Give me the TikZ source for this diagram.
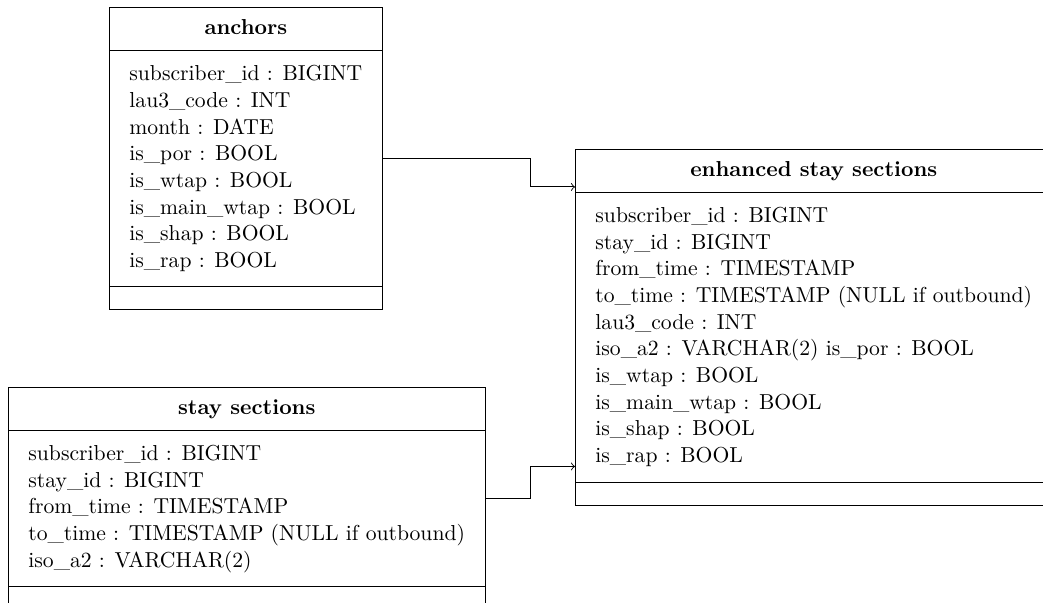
\documentclass[tikz,border=0pt]{standalone}
\usepackage{tikz}
\usetikzlibrary{shapes.multipart, positioning, calc}
\tikzset{
    ->, % all connectors are directed
    >=to, % plain open arrow head
    table/.style={rectangle split, rectangle split parts=3, draw,
        rectangle split part align={center, left, left},
        font=\fontsize{9.75pt}{12pt}\selectfont,
        inner xsep=9pt, inner ysep=5pt, anchor=north west, -}, % one table with header, fields and an empty bottom part
}
\newcommand{\tblhead}[1]{\rule[-2pt]{0pt}{9pt}\textbf{#1}}
\newcommand{\tblfields}[1]{\begin{tabular}{@{}l@{}}#1\end{tabular}}
\newcommand{\tblfoot}{\rule{0.1pt}{0pt}}

\begin{document}
\begin{tikzpicture}[x=1pt, y=1pt]
    \useasboundingbox (0,0) rectangle (469.8,-271.2);
    \node[table] (anchors) at (49.1,-3.2) {\tblhead{anchors}
        \nodepart{two}\tblfields{subscriber\_id : BIGINT\\
            lau3\_code : INT\\
            month : DATE\\
            is\_por : BOOL\\
            is\_wtap : BOOL\\
            is\_main\_wtap : BOOL\\
            is\_shap : BOOL\\
            is\_rap : BOOL}
        \nodepart{three}\tblfoot};
    \node[table] (enhanced) at (259.0,-67.1) {\tblhead{enhanced stay sections}
        \nodepart{two}\tblfields{subscriber\_id : BIGINT\\
            stay\_id : BIGINT\\
            from\_time : TIMESTAMP\\
            to\_time : TIMESTAMP (NULL if outbound)\\
            lau3\_code : INT\\
            iso\_a2 : VARCHAR(2) is\_por : BOOL\\
            is\_wtap : BOOL\\
            is\_main\_wtap : BOOL\\
            is\_shap : BOOL\\
            is\_rap : BOOL}
        \nodepart{three}\tblfoot};
    \node[table] (stays) at (3.6,-174.3) {\tblhead{stay sections}
        \nodepart{two}\tblfields{subscriber\_id : BIGINT\\
            stay\_id : BIGINT\\
            from\_time : TIMESTAMP\\
            to\_time : TIMESTAMP (NULL if outbound)\\
            iso\_a2 : VARCHAR(2)}
        \nodepart{three}\tblfoot};
    \coordinate (elbow) at (238.7,0);
    \coordinate (in1) at ([yshift=-17.1]enhanced.north west);
    \coordinate (in2) at ([yshift=17.6]enhanced.south west);
    \draw (anchors.east) -| (elbow |- in1) -- (in1);
    \draw (stays.east) -| (elbow |- in2) -- (in2);
\end{tikzpicture}
\end{document}
